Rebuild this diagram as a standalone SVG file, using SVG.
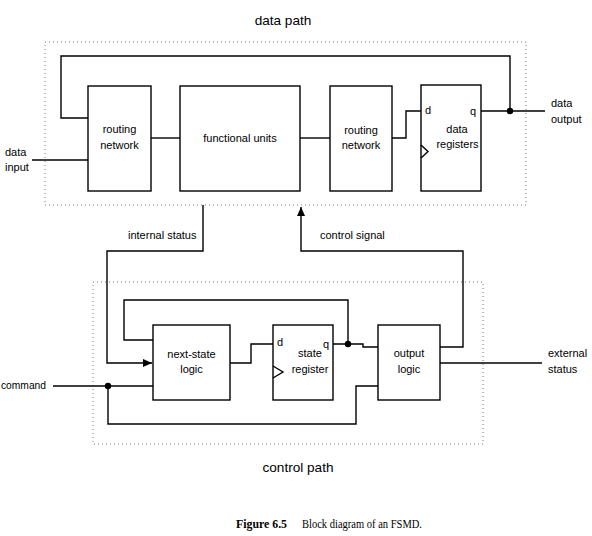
<svg xmlns="http://www.w3.org/2000/svg" width="592" height="536" viewBox="0 0 592 536">
<style>
.box{fill:#fff;stroke:#000;stroke-width:1.4}
.dot{fill:none;stroke:#777;stroke-width:1;stroke-dasharray:1 3}
.w{fill:none;stroke:#000;stroke-width:1.4}
.t{font-family:"Liberation Sans",Arial,sans-serif;font-size:11px;fill:#000}
.m{text-anchor:middle}
.h{font-family:"Liberation Sans",Arial,sans-serif;font-size:13.6px;fill:#000;text-anchor:middle}
.cap{font-family:"Liberation Serif","Times New Roman",serif;font-size:13px;fill:#000}
</style>
<defs>
<marker id="ah" markerWidth="10" markerHeight="10" refX="9" refY="5" orient="auto" markerUnits="userSpaceOnUse">
<path d="M0,1 L9,5 L0,9 Z" fill="#000"/>
</marker>
</defs>
<rect width="592" height="536" fill="#fff"/>

<g id="data-path">
<text class="h" x="283" y="25">data path</text>
<rect class="dot" x="45" y="42" width="481" height="163"/>
</g>
<g id="control-path">
<rect class="dot" x="93" y="282" width="390" height="162"/>
<text class="h" x="298" y="472">control path</text>
</g>

<g id="connectors">
<path class="w" d="M32,160 H88"/>
<path class="w" d="M151,138 H180"/>
<path class="w" d="M300,138 H330"/>
<path class="w" d="M392,138 H406 V111 H421"/>
<path class="w" d="M481,111 H545"/>
<path class="w" d="M510,111 V56 H61 V118 H88"/>
<circle cx="510" cy="111" r="3.2" fill="#000"/>
<path class="w" d="M203,205 V251 H107 V363 H152" marker-end="url(#ah)"/>
<path class="w" d="M440,347 H463 V251 H301 V207" marker-end="url(#ah)"/>
<path class="w" d="M230,363 H251 V344 H273"/>
<path class="w" d="M333,344 H363 V347 H378"/>
<path class="w" d="M348,344 V300 H124 V340 H153"/>
<circle cx="348" cy="344" r="3.2" fill="#000"/>
<path class="w" d="M53,386 H153"/>
<path class="w" d="M108,386 V424 H356 V386 H378"/>
<circle cx="108" cy="386" r="3.2" fill="#000"/>
<path class="w" d="M440,363 H542"/>
</g>

<g id="data-input-label">
<text class="t" x="5" y="156">data</text>
<text class="t" x="5" y="171">input</text>
</g>
<g id="data-output-label">
<text class="t" x="551" y="107">data</text>
<text class="t" x="551" y="123">output</text>
</g>
<g id="internal-status-label"><text class="t" x="128" y="239">internal status</text></g>
<g id="control-signal-label"><text class="t" x="320" y="239">control signal</text></g>
<g id="command-label"><text class="t" x="1" y="389" textLength="45" lengthAdjust="spacingAndGlyphs">command</text></g>
<g id="external-status-label">
<text class="t" x="548" y="357">external</text>
<text class="t" x="548" y="373">status</text>
</g>

<g id="routing-network-1">
<rect class="box" x="88" y="86" width="63" height="105"/>
<text class="t m" x="119.5" y="133">routing</text>
<text class="t m" x="119.5" y="149">network</text>
</g>
<g id="functional-units">
<rect class="box" x="180" y="86" width="120" height="105"/>
<text class="t m" x="240" y="142">functional units</text>
</g>
<g id="routing-network-2">
<rect class="box" x="330" y="86" width="62" height="105"/>
<text class="t m" x="361" y="134">routing</text>
<text class="t m" x="361" y="149">network</text>
</g>
<g id="data-registers">
<rect class="box" x="421" y="85" width="60" height="106"/>
<path class="w" d="M421,145 L428,151.5 L421,158"/>
<text class="t" x="425" y="114">d</text>
<text class="t" x="470" y="115">q</text>
<text class="t m" x="457" y="133">data</text>
<text class="t m" x="457.5" y="148">registers</text>
</g>
<g id="next-state-logic">
<rect class="box" x="153" y="325" width="77" height="75"/>
<text class="t m" x="191.5" y="358">next-state</text>
<text class="t m" x="191.5" y="373">logic</text>
</g>
<g id="state-register">
<rect class="box" x="273" y="325" width="60" height="75"/>
<path class="w" d="M273,366 L283,372 L273,378"/>
<text class="t" x="277" y="346">d</text>
<text class="t" x="323" y="348">q</text>
<text class="t m" x="310" y="357">state</text>
<text class="t m" x="310" y="373">register</text>
</g>
<g id="output-logic">
<rect class="box" x="378" y="325" width="62" height="75"/>
<text class="t m" x="409" y="357">output</text>
<text class="t m" x="409" y="373">logic</text>
</g>

<g id="caption">
<text class="cap" x="236" y="528" font-weight="bold" textLength="51" lengthAdjust="spacingAndGlyphs">Figure 6.5</text>
<text class="cap" x="302" y="528" textLength="120" lengthAdjust="spacingAndGlyphs">Block diagram of an FSMD.</text>
</g>
</svg>
